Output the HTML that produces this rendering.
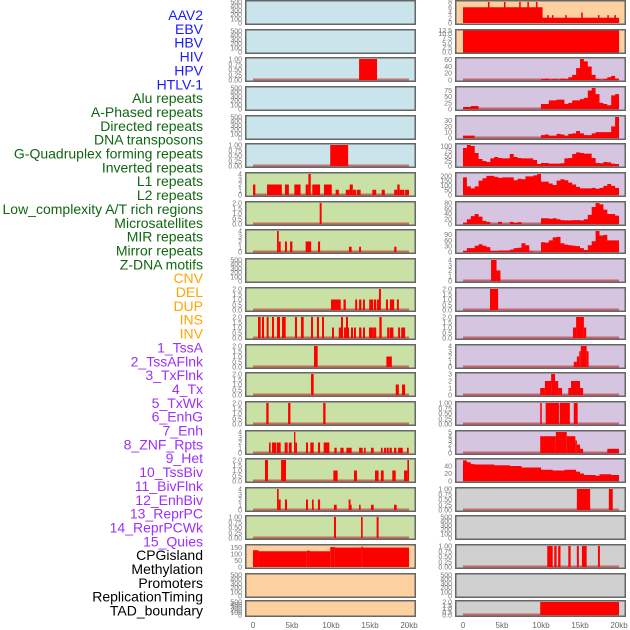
<!DOCTYPE html>
<html><head><meta charset="utf-8"><style>
html,body{margin:0;padding:0;background:#fff;width:630px;height:630px;overflow:hidden}
svg{display:block}
.lbl{font-family:"Liberation Sans",sans-serif;font-size:14px}
.tk{font-family:"Liberation Sans",sans-serif;font-size:7px;fill:#777}
.ax{font-family:"Liberation Sans",sans-serif;font-size:8px;fill:#666}
</style></head><body>
<svg id="chart" width="630" height="630"></svg>
<script>
// ---------- data ----------
const categoryLabels = ["AAV2","EBV","HBV","HIV","HPV","HTLV-1","Alu repeats","A-Phased repeats","Directed repeats","DNA transposons","G-Quadruplex forming repeats","Inverted repeats","L1 repeats","L2 repeats","Low_complexity A/T rich regions","Microsatellites","MIR repeats","Mirror repeats","Z-DNA motifs","CNV","DEL","DUP","INS","INV","1_TssA","2_TssAFlnk","3_TxFlnk","4_Tx","5_TxWk","6_EnhG","7_Enh","8_ZNF_Rpts","9_Het","10_TssBiv","11_BivFlnk","12_EnhBiv","13_ReprPC","14_ReprPCWk","15_Quies","CPGisland","Methylation","Promoters","ReplicationTiming","TAD_boundary"];
const labelGroups = ["v","v","v","v","v","v","r","r","r","r","r","r","r","r","r","r","r","r","r","s","s","s","s","s","c","c","c","c","c","c","c","c","c","c","c","c","c","c","c","k","k","k","k","k"];
const xTickKb = [0,5,10,15,20];
const xTickLabels = ["0","5kb","10kb","15kb","20kb"];
const T500 = [0,100,200,300,400,500];
const T1 = [0,0.25,0.5,0.75,1];
const T2 = [0,0.5,1,1.5,2];
const T4 = [0,1,2,3,4];

// left column bars: [startKb, endKb, value]
const L03_bars = [[13.6,15.9,1]];
const L06_bars = [[9.9,12.2,1]];
const L07_bars = [[0,0.3,2],[1.8,3.7,2],[4.1,4.6,2],[5.3,6.1,2],[6.75,7.1,2],[7.1,7.4,4],[7.6,8.6,2],[9.1,10.1,2],[10.6,11.0,1],[11.9,12.4,1],[12.4,12.8,2],[12.8,13.2,1],[13.3,13.8,1],[15.3,15.8,1],[16.5,16.9,1],[18.1,18.5,1],[18.5,18.8,2],[18.8,19.4,1],[19.5,20,1]];
const L08_bars = [[8.55,8.8,2]];
const L09_bars = [[3.08,3.3,4],[3.3,3.55,2],[4.1,4.35,2],[4.75,5.05,2],[6.75,7.45,2],[8.33,8.6,2],[12.3,12.65,1],[13.6,13.85,1],[18.1,18.4,1]];
const L11_bars = [[10.0,11.25,1],[11.6,11.9,1],[13.1,13.35,1],[13.6,13.9,1],[14.1,14.35,1],[14.9,15.4,1],[15.5,15.8,1],[15.9,16.15,1],[16.15,16.4,2],[17.05,17.3,1],[17.55,18.1,1],[18.45,18.7,1]];
const L12_bars = [[0.64,0.98,2],[1.15,1.41,2],[1.75,2.0,2],[2.44,2.69,2],[3.08,3.46,2],[3.72,4.19,2],[5.38,5.64,2],[6.15,6.5,2],[7.44,7.69,2],[8.2,8.46,2],[8.85,9.1,2],[10.13,10.38,1],[11.0,11.28,1],[11.28,11.54,2],[11.67,11.92,1],[11.92,12.18,2],[12.18,12.3,1],[12.56,12.82,1],[12.95,13.2,1],[13.6,13.9,1],[14.1,14.36,1],[14.87,15.38,1],[15.4,15.8,1],[16.2,16.5,2],[17.2,17.5,1],[17.56,18.0,1],[18.6,18.85,1],[19.0,19.5,1]];
const L13_bars = [[7.82,8.29,2],[17.1,17.8,1]];
const L14_bars = [[7.44,7.78,2],[18.3,18.7,1],[19.1,19.5,1]];
const L15_bars = [[1.7,2.0,2],[4.5,4.8,2],[9.0,9.3,2]];
const L16_bars = [[2.05,2.26,2],[2.44,3.0,2],[3.08,3.55,2],[4.06,4.44,2],[4.6,4.96,2],[5.26,5.43,4],[5.43,5.64,2],[6.8,7.05,2],[7.35,7.78,2],[8.33,8.6,2],[9.06,9.79,2],[10.43,10.73,1],[11.2,11.62,1],[11.97,12.65,1],[13.6,14.06,1],[14.23,14.44,1],[15.13,15.47,1],[16.4,16.62,1],[16.8,17.1,1],[17.18,17.4,1],[17.5,17.8,1],[18.08,18.38,1],[18.6,19.2,1],[19.74,19.96,1]];
const L17_bars = [[1.54,1.92,2],[3.6,4.23,2],[10.3,10.85,1],[12.95,13.33,1],[15.64,16.1,1],[16.4,16.75,1],[17.86,18.3,1],[19.36,19.79,1],[19.79,20,2]];
const L18_bars = [[3.08,3.29,4],[3.29,3.55,2],[4.1,4.36,2],[6.8,7.05,2],[7.56,7.78,2],[8.33,8.6,2],[10.38,10.73,1],[12.26,12.5,2],[12.5,12.65,1],[13.6,13.8,1],[15.13,15.47,1],[18.08,18.42,1]];
const L19_bars = [[10.38,10.64,1],[13.85,14.06,1],[15.85,16.1,1]];
const L20_bars = [[0,0.7,128],[0.7,6.9,120],[6.9,7.3,125],[7.3,9.9,120],[9.9,10.5,152],[10.5,13.9,148],[13.9,14.1,156],[14.1,20,148]];

// right column: 40 bins of 0.5kb
const R03_bins = [0,0,0,0,0,0,0,0,0,0,0,0,0,0,0,0,0,0,0,0,3,4,2,3,2,4,3,8,15,35,62,55,40,15,3,1,3,8,12,4];
const R04_bins = [8,8,12,12,0,0,0,0,0,0,0,0,0,0,0,0,0,0,0,0,20,20,35,35,38,38,20,25,35,35,40,45,75,85,60,25,20,15,55,60];
const R05_bins = [4,4,4,0,0,0,0,0,0,0,0,0,0,0,0,0,0,0,0,0,5,6,4,4,7,6,4,7,8,12,8,5,5,8,10,10,10,10,20,36];
const R06_bins = [90,105,100,65,35,25,20,38,45,40,38,38,60,45,40,38,38,38,30,10,15,15,12,12,12,14,38,40,60,68,65,62,62,40,15,14,20,18,12,10];
const R07_bins = [185,90,70,90,150,175,200,200,190,180,185,185,185,155,170,165,195,195,205,220,140,140,120,105,150,165,155,130,110,85,70,70,70,75,65,75,95,115,95,75];
const R08_bins = [5,18,30,38,28,12,8,0,0,8,0,0,8,4,7,0,0,0,0,0,22,22,20,22,18,15,14,14,15,15,14,18,35,65,80,75,55,38,38,32];
const R09_bins = [5,20,20,32,40,32,25,5,5,8,8,8,12,20,22,45,35,3,0,0,50,48,60,75,78,45,38,35,32,30,20,10,35,55,108,85,88,60,60,60];
const R17_bins = [55,50,45,44,44,44,44,44,42,42,42,42,40,40,40,36,36,36,36,36,30,30,30,28,28,28,30,30,30,25,20,16,16,16,14,18,18,18,16,16];
const R01_bars = [[0,10.2,6],[3.2,3.4,8],[5.25,5.45,8],[7.2,7.4,8],[8.25,8.45,8],[9.35,9.55,8],[10.2,20,2],[10.8,11.0,3],[11.4,11.6,3],[13.1,13.3,3],[15.15,15.35,4],[17.3,17.5,3],[18.5,18.7,3],[19.4,19.6,3]];
const R02_bars = [[0,20,12.5]];
const R10_bars = [[3.6,4.3,4],[4.3,4.8,2]];
const R11_bars = [[3.46,4.5,2]];
const R12_bars = [[14.1,14.5,1],[14.5,15.5,2],[15.5,15.8,1]];
const R13_bars = [[14.2,14.6,1],[14.6,14.9,2],[14.9,15.1,3],[15.1,15.85,4],[15.85,16.1,3]];
const R14_bars = [[9.9,10.5,1],[10.5,11.3,2],[11.3,11.8,3],[11.8,12.2,2],[12.2,12.7,1],[13.5,13.85,1],[13.85,15.0,2],[15.0,15.4,1]];
const R15_bars = [[9.9,10.1,1],[10.6,12.3,1],[12.4,13.7,1],[14.2,14.7,1]];
const R16_bars = [[9.9,11.9,4],[11.9,13.3,5],[13.3,14.4,4],[14.4,14.6,3],[14.6,15.0,2],[15.0,15.4,1],[18.5,20,1]];
const R18_bars = [[14.6,16.3,1],[18.7,19.2,1]];
const R20_bars = [[10.8,11.5,1],[11.7,12.0,1],[12.2,12.5,1],[13.5,13.8,1],[14.6,14.85,1],[15.25,15.85,1],[17.3,17.55,1]];
const R22_bars = [[9.9,20,2]];

const BLUE="#c9e4ea",GREEN="#c9e1a5",PEACH="#fdd0a0",PURPLE="#d5c5e1",GRAY="#d0d0d0";
const panels = [
 // left
 {c:0,r:0,bg:BLUE,t:T500},{c:0,r:1,bg:BLUE,t:T500},{c:0,r:2,bg:BLUE,t:T1,b:L03_bars},{c:0,r:3,bg:BLUE,t:T500},{c:0,r:4,bg:BLUE,t:T500},{c:0,r:5,bg:BLUE,t:T1,b:L06_bars},
 {c:0,r:6,bg:GREEN,t:T4,b:L07_bars},{c:0,r:7,bg:GREEN,t:T2,b:L08_bars},{c:0,r:8,bg:GREEN,t:T4,b:L09_bars},{c:0,r:9,bg:GREEN,t:T500},{c:0,r:10,bg:GREEN,t:T2,b:L11_bars},{c:0,r:11,bg:GREEN,t:T2,b:L12_bars},
 {c:0,r:12,bg:GREEN,t:T2,b:L13_bars},{c:0,r:13,bg:GREEN,t:T2,b:L14_bars},{c:0,r:14,bg:GREEN,t:T2,b:L15_bars},{c:0,r:15,bg:GREEN,t:T4,b:L16_bars},{c:0,r:16,bg:GREEN,t:T2,b:L17_bars},{c:0,r:17,bg:GREEN,t:T4,b:L18_bars},{c:0,r:18,bg:GREEN,t:T1,b:L19_bars},
 {c:0,r:19,bg:PEACH,t:[0,50,100,150],b:L20_bars,nobase:1,ym:160},{c:0,r:20,bg:PEACH,t:T500},{c:0,r:21,bg:PEACH,t:T500},
 // right
 {c:1,r:0,bg:PEACH,t:[0,2,4,6,8],b:R01_bars,nobase:1},{c:1,r:1,bg:PEACH,t:[0,2.5,5,7.5,10,12.5],b:R02_bars,nobase:1,f:1},
 {c:1,r:2,bg:PURPLE,t:[0,20,40,60],n:R03_bins},{c:1,r:3,bg:PURPLE,t:[0,25,50,75],n:R04_bins},{c:1,r:4,bg:PURPLE,t:[0,10,20,30],n:R05_bins},{c:1,r:5,bg:PURPLE,t:[0,25,50,75,100],n:R06_bins},
 {c:1,r:6,bg:PURPLE,t:[0,50,100,150,200],n:R07_bins},{c:1,r:7,bg:PURPLE,t:[0,20,40,60,80],n:R08_bins},{c:1,r:8,bg:PURPLE,t:[0,30,60,90],n:R09_bins},
 {c:1,r:9,bg:PURPLE,t:T4,b:R10_bars},{c:1,r:10,bg:PURPLE,t:T2,b:R11_bars},{c:1,r:11,bg:PURPLE,t:T2,b:R12_bars},{c:1,r:12,bg:PURPLE,t:T4,b:R13_bars},{c:1,r:13,bg:PURPLE,t:[0,1,2,3],b:R14_bars},
 {c:1,r:14,bg:PURPLE,t:T1,b:R15_bars},{c:1,r:15,bg:PURPLE,t:[0,1,2,3,4,5],b:R16_bars},{c:1,r:16,bg:PURPLE,t:[0,20,40],n:R17_bins,ym:56},
 {c:1,r:17,bg:GRAY,t:T1,b:R18_bars},{c:1,r:18,bg:GRAY,t:T500},{c:1,r:19,bg:GRAY,t:T1,b:R20_bars},{c:1,r:20,bg:GRAY,t:T500},{c:1,r:21,bg:GRAY,t:T2,b:R22_bars}
];

// ---------- layout ----------
const NS="http://www.w3.org/2000/svg";
const svg=document.getElementById('chart');
const rowTop=[0,29,57,86,115,143,172,201,229,258,287,315,344,372,401,430,458,487,515,544,573,600];
function rowH(r){return r===21?17:25;}
const colLeft=[245,455], colW=171;
function xScale(c,kb){return colLeft[c]+8+kb*7.8;}
function mk(tag,attrs,parent){const e=document.createElementNS(NS,tag);for(const k in attrs)e.setAttribute(k,attrs[k]);(parent||svg).appendChild(e);return e;}
const grpColor={v:"#1a1aff",r:"#116611",s:"#ffa500",c:"#9b30ff",k:"#000"};

categoryLabels.forEach((s,i)=>{
  const t=mk('text',{x:203,y:15+13.85*i+5,'text-anchor':'end',class:'lbl',fill:grpColor[labelGroups[i]]});
  
  
  t.textContent=s;
});

panels.forEach(p=>{
  const top=rowTop[p.r],h=rowH(p.r),L=colLeft[p.c],bot=top+h;
  const g=mk('g',{});
  
  
  let dmax=0;
  (p.b||[]).forEach(b=>dmax=Math.max(dmax,b[2]));
  (p.n||[]).forEach(v=>dmax=Math.max(dmax,v));
  const lastT=p.t[p.t.length-1];
  const ym=p.ym||Math.max(lastT,dmax);
  const pad=p.f?0:2;
  const y0=bot-2, y1=top+pad;
  const yS=v=>y0-(v/ym)*(y0-y1);
  mk('rect',{x:L,y:top,width:colW,height:h,fill:p.bg},g);
  if((p.b||p.n)&&!p.nobase){
    const bl=mk('line',{x1:xScale(p.c,0),x2:xScale(p.c,20),y1:y0-0.5,y2:y0-0.5,stroke:'rgba(190,20,20,0.55)','stroke-width':2},g);
  }
  (p.b||[]).forEach(b=>{
    const x=xScale(p.c,b[0]),w=Math.max(1,xScale(p.c,b[1])-x);
    const rc=mk('rect',{x:x,y:yS(b[2]),width:w,height:y0-yS(b[2])+(p.f?2:0),fill:'#ff0000'},g);
    
    
  });
  if(p.n){
    let d='M'+xScale(p.c,0)+','+y0;
    p.n.forEach((v,i)=>{const xa=xScale(p.c,i*0.5),xb=xScale(p.c,(i+1)*0.5);d+=' L'+xa+','+yS(v)+' L'+xb+','+yS(v);});
    d+=' L'+xScale(p.c,20)+','+y0+' Z';
    const pa=mk('path',{d:d,fill:'#ff0000'},g);
    
    
  }
  mk('rect',{x:L+0.75,y:top+0.75,width:colW-1.5,height:h-1.5,fill:'none',stroke:'#666','stroke-width':1.5},g);
  p.t.forEach(v=>{
    const dec=p.t.some(q=>q%1!==0)?(p.t.some(q=>(q*10)%1!==0)?2:1):0;
    const tx=mk('text',{x:L-3,y:Math.min(bot+1,Math.max(top+4,yS(v)+2.5)),'text-anchor':'end',class:'tk'},g);
    
    
    tx.textContent=v.toFixed(dec);
  });
});

[0,1].forEach(c=>{
  xTickKb.forEach((kb,i)=>{
    const t=mk('text',{x:xScale(c,kb),y:628,'text-anchor':'middle',class:'ax'});
    
    
    t.textContent=xTickLabels[i];
  });
});
</script>
</body></html>
